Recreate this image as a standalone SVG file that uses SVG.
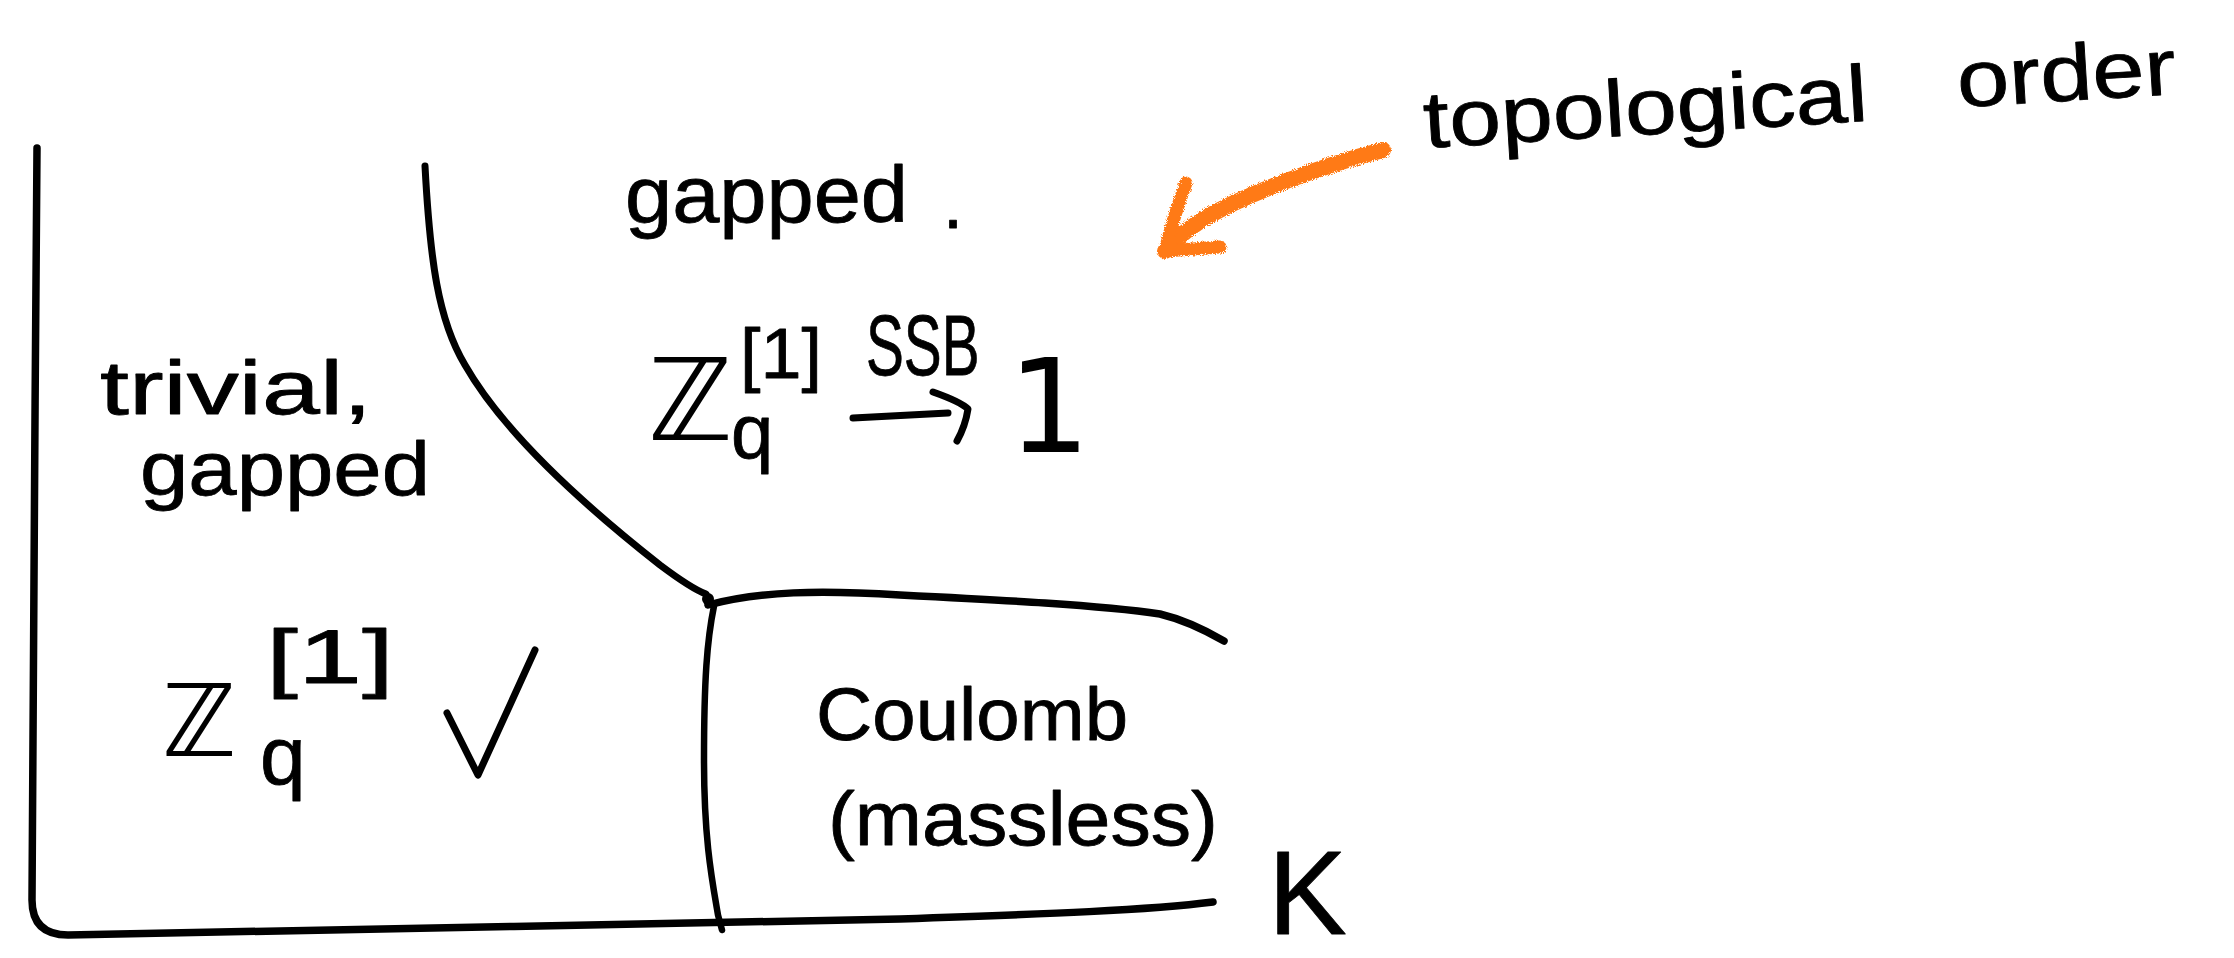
<svg xmlns="http://www.w3.org/2000/svg" width="2234" height="958" viewBox="0 0 2234 958">
<defs>
<style>
.ink{fill:none;stroke:#000;stroke-linecap:round;stroke-linejoin:round}
.t{font-family:"Liberation Sans","DejaVu Sans",sans-serif;fill:#000;stroke:#000;stroke-width:0.8px;stroke-linejoin:round}
.m{font-family:"DejaVu Sans","Liberation Sans",sans-serif;fill:#000}
.orange{fill:none;stroke:#ff7a14;stroke-linecap:round;stroke-linejoin:round}
</style>
<filter id="crayon" x="-10%" y="-10%" width="120%" height="120%">
<feTurbulence type="fractalNoise" baseFrequency="0.9" numOctaves="2" result="n"/>
<feDisplacementMap in="SourceGraphic" in2="n" scale="5"/>
</filter>
</defs>
<rect width="2234" height="958" fill="#fff"/>

<g id="connectors">
<path id="axes" class="ink" stroke-width="7.5" d="M37,148 C35,400 33,700 32,900 Q32,935 68,935 C300,929 650,925 900,919 C1050,914 1150,910 1213,902"/>
<path id="boundary-curve" class="ink" stroke-width="7" d="M425,166 C430,260 438,320 465,365 C505,435 590,510 660,565 C680,580 695,590 706,594"/>
<circle cx="708" cy="599" r="6" fill="#000"/>
<path id="boundary-horizontal" class="ink" stroke-width="7.5" d="M708,605 C760,591 820,590 900,595 C1000,600 1100,605 1160,614 C1185,620 1205,630 1224,641"/>
<path id="boundary-vertical" class="ink" stroke-width="6.5" d="M714,606 C707,640 704,680 704,760 C704,840 712,880 718,915 L722,930"/>
<g id="topo-arrow" filter="url(#crayon)">
<path class="orange" stroke-width="16" d="M1383,150 C1320,166 1245,195 1205,218 C1188,229 1174,240 1165,251"/>
<path class="orange" stroke-width="13" d="M1186,183 C1178,205 1170,230 1165,251 L1220,247"/>
</g>
</g>

<g id="node-topological-order">
<text class="t" font-size="80" transform="rotate(-3.5 1425 148)"><tspan x="1425" y="148" textLength="445" lengthAdjust="spacingAndGlyphs">topological</tspan><tspan x="1960" y="140" textLength="219" lengthAdjust="spacingAndGlyphs">order</tspan></text>
</g>

<g id="node-gapped">
<text class="t" font-size="80" x="625" y="222" textLength="283" lengthAdjust="spacingAndGlyphs">gapped</text>
<text class="t" font-size="72" x="943" y="228">.</text>
</g>

<g id="node-ssb">
<text class="m" font-size="114" x="648" y="440">ℤ</text>
<text class="t" font-size="70" x="740" y="378" textLength="82" lengthAdjust="spacingAndGlyphs">[1]</text>
<text class="t" font-size="76" x="731" y="458">q</text>
<text class="t" font-size="86" transform="translate(866 375) scale(0.66 1)">SSB</text>
<path class="ink" stroke-width="7" d="M853,418 L948,413 M933,392 C950,398 962,403 968,409 C966,422 962,432 957,441"/>
<text class="m" font-size="130" x="1049" y="452" text-anchor="middle">1</text>
</g>

<g id="node-trivial">
<text class="t" font-size="76" x="100" y="414" textLength="272" lengthAdjust="spacingAndGlyphs">trivial,</text>
<text class="t" font-size="76" x="140" y="495" textLength="290" lengthAdjust="spacingAndGlyphs">gapped</text>
</g>

<g id="node-trivial-symmetry">
<text class="m" font-size="100" x="162" y="756">ℤ</text>
<text class="t" font-size="76" x="266" y="683" textLength="128" lengthAdjust="spacingAndGlyphs">[1]</text>
<text class="t" font-size="82" x="260" y="784">q</text>
<path class="ink" stroke-width="7" d="M447,713 L478,775 L535,650"/>
</g>

<g id="node-coulomb">
<text class="t" font-size="74" x="816" y="740" textLength="312" lengthAdjust="spacingAndGlyphs">Coulomb</text>
<text class="t" font-size="76" x="828" y="845" textLength="390" lengthAdjust="spacingAndGlyphs">(massless)</text>
</g>

<g id="node-axis-label">
<text class="t" font-size="118" x="1268" y="934">K</text>
</g>
</svg>
